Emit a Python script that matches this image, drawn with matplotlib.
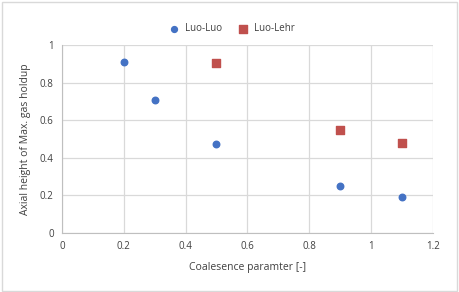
import matplotlib
matplotlib.use("Agg")
import matplotlib.pyplot as plt
from matplotlib.patches import Rectangle

plt.rcParams['font.family'] = ['Open Sans', 'DejaVu Sans']

luo_luo_x = [0.2, 0.3, 0.5, 0.9, 1.1]
luo_luo_y = [0.91, 0.71, 0.475, 0.25, 0.19]
luo_lehr_x = [0.5, 0.9, 1.1]
luo_lehr_y = [0.905, 0.55, 0.48]
x_ticks = [0, 0.2, 0.4, 0.6, 0.8, 1, 1.2]
y_ticks = [0, 0.2, 0.4, 0.6, 0.8, 1]

fig = plt.figure(figsize=(4.59, 2.92), dpi=100)
fig.patches.append(Rectangle((0.004, 0.004), 0.992, 0.99, transform=fig.transFigure,
                             fill=False, edgecolor='#D9D9D9', linewidth=1))
ax = fig.add_axes([0.135, 0.202, 0.808, 0.644])
ax.scatter(luo_luo_x, luo_luo_y, s=22, color='#4472C4', marker='o', label='Luo-Luo', zorder=3)
ax.scatter(luo_lehr_x, luo_lehr_y, s=40, color='#C0504D', marker='s', label='Luo-Lehr', zorder=3)
ax.set_xlim(0, 1.2)
ax.set_ylim(0, 1)
ax.set_xticks(x_ticks)
ax.set_xticklabels([f"{v:g}" for v in x_ticks])
ax.set_yticks(y_ticks)
ax.set_yticklabels([f"{v:g}" for v in y_ticks])
ax.grid(True, color='#D9D9D9', linewidth=0.9)
ax.set_axisbelow(True)
for s in ['top', 'right']:
    ax.spines[s].set_visible(False)
for s in ['left', 'bottom']:
    ax.spines[s].set_color('#BFBFBF')
ax.tick_params(length=0, labelsize=7, colors='#404040', pad=6)
ax.set_xlabel('Coalesence paramter [-]', fontsize=7.5, color='#404040', labelpad=7)
ax.set_ylabel('Axial height of Max. gas holdup', fontsize=7.5, color='#404040', labelpad=6)
leg = fig.legend(loc='upper center', bbox_to_anchor=(0.5, 0.95), ncol=2, frameon=False,
                 fontsize=7, handletextpad=0.1, columnspacing=1.2, markerscale=0.9)
for t in leg.get_texts():
    t.set_color('#404040')
fig.savefig('out.png', dpi=100)
